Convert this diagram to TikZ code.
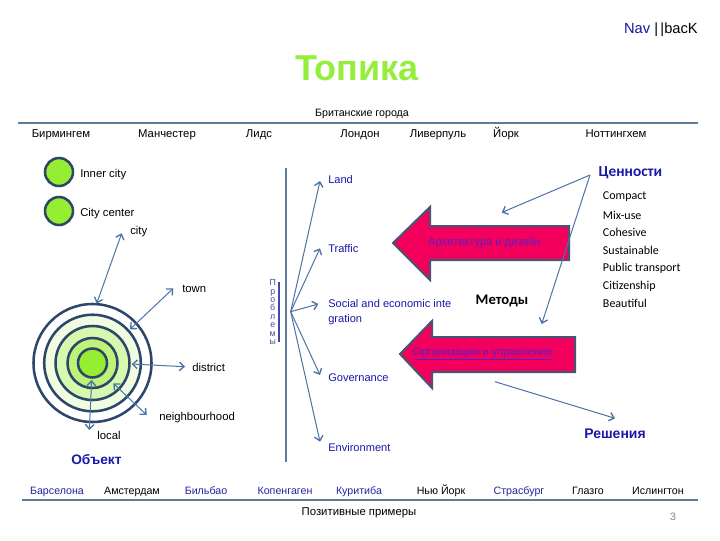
\documentclass[tikz,border=0pt]{standalone}
\usepackage{fontspec}
\setmainfont{Liberation Sans}
\newfontfamily\calfont{Carlito}
\usetikzlibrary{arrows.meta}
\definecolor{titlegreen}{RGB}{150,238,60}
\definecolor{navblue}{RGB}{20,20,160}
\definecolor{lblblue}{RGB}{25,25,170}
\definecolor{cityblue}{RGB}{35,35,160}
\definecolor{rulecol}{RGB}{95,125,155}
\definecolor{arrcol}{RGB}{75,115,165}
\definecolor{ringcol}{RGB}{45,70,105}
\definecolor{blockfill}{RGB}{242,0,92}
\definecolor{blockedge}{RGB}{70,85,115}
\definecolor{blocktext}{RGB}{90,30,200}
\definecolor{probcol}{RGB}{70,70,170}
\definecolor{dotgreen}{RGB}{150,238,50}
\definecolor{ringa}{RGB}{240,253,225}
\definecolor{ringb}{RGB}{215,248,175}
\definecolor{ringc}{RGB}{190,242,120}
\definecolor{pagenum}{RGB}{130,130,130}
\begin{document}
\begin{tikzpicture}[x=0.75pt,y=-0.75pt,
  lbl/.style={inner sep=0pt,anchor=west},
  citytop/.style={inner sep=0pt,anchor=base,font=\fontsize{8.5}{10}\selectfont},
  citybot/.style={inner sep=0pt,anchor=base,font=\fontsize{8}{10}\selectfont},
  eng/.style={lbl,font=\fontsize{8.5}{10}\selectfont},
  prob/.style={lbl,font=\fontsize{8.3}{10}\selectfont,text=lblblue},
  val/.style={lbl,font=\calfont\fontsize{9}{10}\selectfont},
  conn/.style={draw=arrcol,line width=0.75pt},
  tip/.style={-{Straight Barb[length=3.5pt,width=6.5pt,line width=1pt]}},
  dtip/.style={{Straight Barb[length=3.5pt,width=6.5pt,line width=1pt]}-{Straight Barb[length=3.5pt,width=6.5pt,line width=1pt]}},
  ring/.style={draw=ringcol,line width=1.9pt},
  block/.style={fill=blockfill,draw=blockedge,line width=1.5pt,line join=miter},
  rulel/.style={draw=rulecol,line width=0.9pt}]
\useasboundingbox (0,0) rectangle (720,540);
\fill[white] (0,0) rectangle (720,540);

% header
\node[inner sep=0pt,anchor=base east,font=\fontsize{11}{12}\selectfont] (nav) at (698,33) {\textcolor{navblue}{Nav} |\,|bacK};
\node[inner sep=0pt,anchor=base,font=\bfseries\fontsize{27}{30}\selectfont,text=titlegreen] (title) at (357,80) {Топика};
\node[inner sep=0pt,anchor=base,font=\fontsize{8}{10}\selectfont] (brit) at (362,116) {Британские города};
\coordinate (rt1) at (18,123); \coordinate (rt2) at (698,123);
\draw[rulel] (rt1) -- (rt2);

% top cities
\node[citytop] (c1) at (61,137) {Бирмингем};
\node[citytop] (c2) at (167,137) {Манчестер};
\node[citytop] (c3) at (259,137) {Лидс};
\node[citytop] (c4) at (360,137) {Лондон};
\node[citytop] (c5) at (438,137) {Ливерпуль};
\node[citytop] (c6) at (506,137) {Йорк};
\node[citytop] (c7) at (616,137) {Ноттингхем};

% legend dots
\fill[dotgreen,draw=ringcol,line width=1.9pt] (59,172) circle (14);
\fill[dotgreen,draw=ringcol,line width=1.9pt] (59,211) circle (14);
\node[eng] (inner) at (80,175) {Inner city};
\node[eng] (center) at (80,214) {City center};

% concentric rings
\fill[white,ring] (92.5,363) circle (59);
\fill[ringa,ring] (92.5,363) circle (48.3);
\fill[ringb,ring] (92.5,363) circle (37);
\fill[ringc,ring] (92.5,363) circle (25);
\fill[dotgreen,ring] (92.5,363) circle (14.5);

% scale labels
\node[eng] (city) at (130,232) {city};
\node[eng] (town) at (182,289) {town};
\node[eng] (district) at (192,367) {district};
\node[eng] (neigh) at (159,418) {neighbourhood};
\node[eng] (local) at (97,435) {local};
\node[lbl,font=\bfseries\fontsize{10.3}{12}\selectfont,text=lblblue] (obj) at (71,460) {Объект};

\coordinate (cityA) at (96.7,303.5); \coordinate (cityB) at (121.7,233.3);
\coordinate (townA) at (130,329.3); \coordinate (townB) at (173.3,288.3);
\coordinate (distA) at (131.7,364); \coordinate (distB) at (185,366.7);
\coordinate (neighA) at (113.3,383.3); \coordinate (neighB) at (146.7,415);
\coordinate (localA) at (91.7,380); \coordinate (localB) at (89.3,430);
\draw[conn,dtip] (cityA) -- (cityB);
\draw[conn,dtip] (townA) -- (townB);
\draw[conn,dtip] (distA) -- (distB);
\draw[conn,dtip] (neighA) -- (neighB);
\draw[conn,dtip] (localA) -- (localB);

% problems column
\coordinate (vl1) at (286,168); \coordinate (vl2) at (286,462);
\draw[draw=rulecol,line width=0.8pt] (vl1) -- (vl2);
\node[inner sep=0pt,font=\fontsize{6.6}{6.3}\selectfont,text=probcol,align=center] (probl) at (272.7,312) {П\\р\\о\\б\\л\\е\\м\\ы};
\coordinate (pb1) at (279.3,282); \coordinate (pb2) at (279.3,342);
\draw[draw=probcol,line width=1.4pt] (pb1) -- (pb2);

\coordinate (fan) at (290.7,311.7);
\coordinate (landT) at (320,181);
\coordinate (trafT) at (320,248.3);
\coordinate (socT) at (318.3,304);
\coordinate (govT) at (320,375);
\coordinate (envT) at (320,441.7);
\draw[conn,tip] (fan) -- (landT);
\draw[conn,tip] (fan) -- (trafT);
\draw[conn,tip] (fan) -- (socT);
\draw[conn,tip] (fan) -- (govT);
\draw[conn,tip] (fan) -- (envT);

\node[prob] (land) at (328,180) {Land};
\node[prob] (traffic) at (328,248.3) {Traffic};
\node[prob] (soc) at (328,304) {Social and economic inte};
\node[prob] (soc2) at (328,319.3) {gration};
\node[prob] (gov) at (328,377.3) {Governance};
\node[prob] (env) at (328,447.3) {Environment};

% block arrows
\draw[block] (393,243) -- (430,207) -- (430,226) -- (569,226) -- (569,260) -- (430,260) -- (430,280) -- cycle;
\node[inner sep=0pt,font=\fontsize{8.3}{10}\selectfont,text=blocktext] (arch) at (484.5,243) {Архитектура и дизайн};
\draw[block] (400,354) -- (432,321) -- (432,337) -- (575,337) -- (575,372) -- (432,372) -- (432,388) -- cycle;
\node[inner sep=0pt,font=\fontsize{8.3}{10}\selectfont,text=blocktext] (org) at (482.5,354) {\underline{Организация и управление}};

\node[inner sep=0pt,font=\calfont\bfseries\fontsize{11}{12}\selectfont] (met) at (502,301) {Методы};

% values
\node[lbl,font=\calfont\bfseries\fontsize{11.5}{12}\selectfont,text=lblblue] (cen) at (598.3,172.7) {Ценности};
\node[val] (v1) at (602.7,196.7) {Compact};
\node[val] (v2) at (602.7,215) {Mix-use};
\node[val] (v3) at (602.7,232.7) {Cohesive};
\node[val] (v4) at (602.7,250) {Sustainable};
\node[val] (v5) at (602.7,268.3) {Public transport};
\node[val] (v6) at (602.7,286) {Citizenship};
\node[val] (v7) at (602.7,303.3) {Beautiful};

\coordinate (cenO) at (590,175);
\coordinate (cenA) at (501.7,212.5);
\coordinate (cenB) at (541.7,324);
\draw[conn,tip] (cenO) -- (cenA);
\draw[conn,tip] (cenO) -- (cenB);
\coordinate (resO) at (495,381.7);
\coordinate (resT) at (615,418.3);
\draw[conn,tip] (resO) -- (resT);
\node[lbl,font=\bfseries\fontsize{10.5}{12}\selectfont,text=lblblue] (res) at (584,434) {Решения};

% bottom cities
\node[citybot,text=cityblue] (b1) at (57,494) {Барселона};
\node[citybot] (b2) at (132,494) {Амстердам};
\node[citybot,text=cityblue] (b3) at (206,494) {Бильбао};
\node[citybot,text=cityblue] (b4) at (285,494) {Копенгаген};
\node[citybot,text=cityblue] (b5) at (359,494) {Куритиба};
\node[citybot] (b6) at (441,494) {Нью Йорк};
\node[citybot,text=cityblue] (b7) at (519,494) {Страсбург};
\node[citybot] (b8) at (588,494) {Глазго};
\node[citybot] (b9) at (658,494) {Ислингтон};
\coordinate (rb1) at (22,500); \coordinate (rb2) at (698,500);
\draw[rulel] (rb1) -- (rb2);
\node[inner sep=0pt,anchor=base,font=\fontsize{8.5}{10}\selectfont] (pos) at (359,515) {Позитивные примеры};
\node[inner sep=0pt,anchor=base,font=\fontsize{8}{10}\selectfont,text=pagenum] (pg) at (673,520) {3};
\end{tikzpicture}
\end{document}
